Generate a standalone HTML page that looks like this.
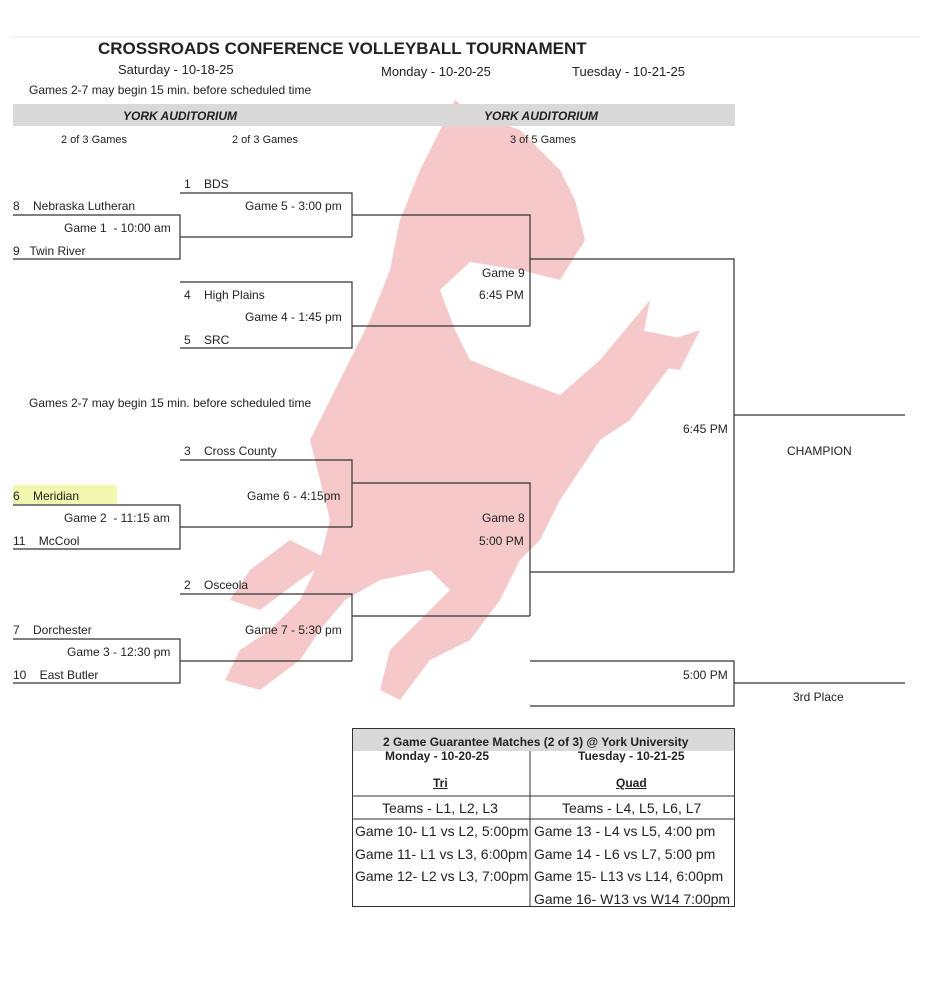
<!DOCTYPE html>
<html><head><meta charset="utf-8"><style>
body{margin:0;background:#fff;width:945px;height:1000px;position:relative;overflow:hidden;font-family:"Liberation Sans",Arial,sans-serif;color:#222}
.t{position:absolute;font-size:12px;white-space:nowrap;line-height:14px}
svg{position:absolute;left:0;top:0}
</style></head><body>
<svg width="945" height="1000">
<g fill="#f5c9c9">
<path d="M455 100 L470 112 L520 130 L560 170 L575 200 L585 240 L560 280 L520 270 L470 262 L440 290 L455 330 L470 360 L520 380 L560 395 L600 360 L640 330 L690 340 L660 380 L630 420 L600 440 L580 470 L560 500 L540 540 L520 560 L500 600 L470 640 L430 660 L400 700 L380 690 L390 650 L420 620 L450 590 L430 570 L380 580 L345 600 L320 630 L300 660 L260 690 L225 680 L240 650 L270 630 L300 600 L320 560 L330 520 L320 480 L310 440 L330 400 L350 360 L370 320 L390 270 L400 220 L420 170 Z"/>
<path d="M330 560 L290 540 L250 570 L230 600 L260 610 L300 580 Z"/>
<path d="M600 360 L650 300 L640 350 L700 330 L680 370 Z"/>
</g>
<line x1="13" y1="37" x2="920" y2="37" stroke="#e5e5e5"/>
<rect x="13" y="104" width="722" height="22" fill="#d9d9d9"/>
<g stroke="#333" stroke-width="1.2" fill="none">
<path d="M180 193H352V237M13 215H180V259H13M180 237H352M352 215H530V326M180 282H352V348H180M352 326H530M530 259H734V572M734 415H905"/>
<path d="M180 460H352V527M13 505H180V549H13M180 527H352M352 483H530V616M180 594H352V661M13 639H180V683H13M180 661H352M352 616H530M530 572H734"/>
<path d="M530 661H734V706H530M734 683H905"/>
</g>
<rect x="13" y="485" width="104" height="19" fill="#eef59a" opacity="0.8"/>
<g stroke="#333" fill="none">
<rect x="352.5" y="728.5" width="382" height="178"/>
</g>
<rect x="353" y="729" width="381" height="22" fill="#d9d9d9"/>
<g stroke="#333"><line x1="530" y1="751" x2="530" y2="907"/><line x1="352" y1="796" x2="735" y2="796"/><line x1="352" y1="819" x2="735" y2="819"/></g>
</svg>
<div class="t" style="left:98px;top:39px;font-size:17px;font-weight:bold;line-height:19px">CROSSROADS CONFERENCE VOLLEYBALL TOURNAMENT</div>
<div class="t" style="left:118px;top:63px;font-size:13px">Saturday - 10-18-25</div>
<div class="t" style="left:381px;top:65px;font-size:13px">Monday - 10-20-25</div>
<div class="t" style="left:572px;top:65px;font-size:13px">Tuesday - 10-21-25</div>
<div class="t" style="left:29px;top:83px">Games 2-7 may begin 15 min. before scheduled time</div>
<div class="t" style="left:123px;top:109px;font-weight:bold;font-style:italic">YORK AUDITORIUM</div>
<div class="t" style="left:484px;top:109px;font-weight:bold;font-style:italic">YORK AUDITORIUM</div>
<div class="t" style="left:61px;top:133px;font-size:11px">2 of 3 Games</div>
<div class="t" style="left:232px;top:133px;font-size:11px">2 of 3 Games</div>
<div class="t" style="left:510px;top:133px;font-size:11px">3 of 5 Games</div>
<div class="t" style="left:184px;top:177px">1&nbsp;&nbsp;&nbsp; BDS</div>
<div class="t" style="left:13px;top:199px">8&nbsp;&nbsp;&nbsp; Nebraska Lutheran</div>
<div class="t" style="left:245px;top:199px">Game 5 - 3:00 pm</div>
<div class="t" style="left:64px;top:221px">Game 1&nbsp; - 10:00 am</div>
<div class="t" style="left:13px;top:244px">9&nbsp;&nbsp; Twin River</div>
<div class="t" style="left:482px;top:266px">Game 9</div>
<div class="t" style="left:184px;top:288px">4&nbsp;&nbsp;&nbsp; High Plains</div>
<div class="t" style="left:479px;top:288px">6:45 PM</div>
<div class="t" style="left:245px;top:310px">Game 4 - 1:45 pm</div>
<div class="t" style="left:184px;top:333px">5&nbsp;&nbsp;&nbsp; SRC</div>
<div class="t" style="left:29px;top:396px">Games 2-7 may begin 15 min. before scheduled time</div>
<div class="t" style="left:683px;top:422px">6:45 PM</div>
<div class="t" style="left:787px;top:444px">CHAMPION</div>
<div class="t" style="left:184px;top:444px">3&nbsp;&nbsp;&nbsp; Cross County</div>
<div class="t" style="left:13px;top:489px">6&nbsp;&nbsp;&nbsp; Meridian</div>
<div class="t" style="left:247px;top:489px">Game 6 - 4:15pm</div>
<div class="t" style="left:64px;top:511px">Game 2&nbsp; - 11:15 am</div>
<div class="t" style="left:482px;top:511px">Game 8</div>
<div class="t" style="left:13px;top:534px">11&nbsp;&nbsp;&nbsp; McCool</div>
<div class="t" style="left:479px;top:534px">5:00 PM</div>
<div class="t" style="left:184px;top:578px">2&nbsp;&nbsp;&nbsp; Osceola</div>
<div class="t" style="left:245px;top:623px">Game 7 - 5:30 pm</div>
<div class="t" style="left:13px;top:623px">7&nbsp;&nbsp;&nbsp; Dorchester</div>
<div class="t" style="left:67px;top:645px">Game 3 - 12:30 pm</div>
<div class="t" style="left:13px;top:668px">10&nbsp;&nbsp;&nbsp; East Butler</div>
<div class="t" style="left:683px;top:668px">5:00 PM</div>
<div class="t" style="left:793px;top:690px">3rd Place</div>
<div class="t" style="left:383px;top:735px;font-weight:bold">2 Game Guarantee Matches (2 of 3) @ York University</div>
<div class="t" style="left:385px;top:749px;font-weight:bold">Monday - 10-20-25</div>
<div class="t" style="left:578px;top:749px;font-weight:bold">Tuesday - 10-21-25</div>
<div class="t" style="left:433px;top:776px;font-weight:bold;text-decoration:underline">Tri</div>
<div class="t" style="left:616px;top:776px;font-weight:bold;text-decoration:underline">Quad</div>
<div class="t" style="left:382px;top:800px;font-size:14px;line-height:16px">Teams - L1, L2, L3</div>
<div class="t" style="left:562px;top:800px;font-size:14px;line-height:16px">Teams - L4, L5, L6, L7</div>
<div class="t" style="left:355px;top:823px;font-size:14px;line-height:16px">Game 10- L1 vs L2, 5:00pm</div>
<div class="t" style="left:355px;top:846px;font-size:14px;line-height:16px">Game 11- L1 vs L3, 6:00pm</div>
<div class="t" style="left:355px;top:868px;font-size:14px;line-height:16px">Game 12- L2 vs L3, 7:00pm</div>
<div class="t" style="left:534px;top:823px;font-size:14px;line-height:16px">Game 13 - L4 vs L5, 4:00 pm</div>
<div class="t" style="left:534px;top:846px;font-size:14px;line-height:16px">Game 14 - L6 vs L7, 5:00 pm</div>
<div class="t" style="left:534px;top:868px;font-size:14px;line-height:16px">Game 15- L13 vs L14, 6:00pm</div>
<div class="t" style="left:534px;top:891px;font-size:14px;line-height:16px">Game 16- W13 vs W14 7:00pm</div>
</body></html>
